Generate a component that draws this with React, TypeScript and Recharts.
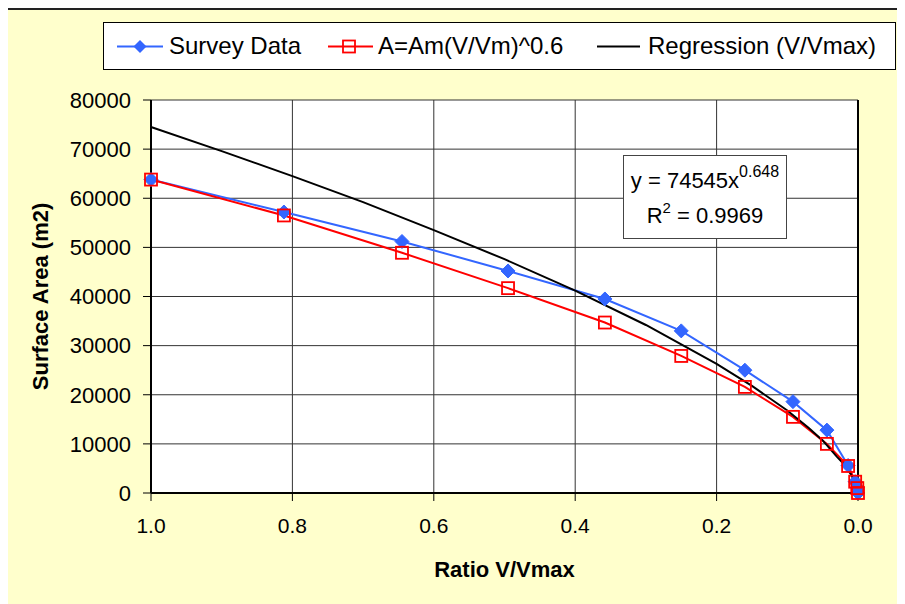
import { LineChart, Line, XAxis, YAxis, CartesianGrid, Legend, ReferenceLine } from 'recharts'

const FONT = '"Liberation Sans", Arial, sans-serif'

// survey points (ratio V/Vmax -> surface area m2)
const surveyRatio = [1.0, 0.812, 0.645, 0.495, 0.358, 0.25, 0.16, 0.092, 0.044, 0.014, 0.004, 0.001, 0]
const surveyArea = [63800, 57200, 51200, 45200, 39500, 33000, 25000, 18600, 12800, 5600, 2300, 1100, 0]
// A = Am (V/Vm)^0.6, same ratios
const modelArea = [63800, 56500, 48900, 41700, 34700, 27900, 21600, 15500, 10000, 5500, 2300, 1000, 0]
// regression trendline
const regRatio = [1, 0.9, 0.8, 0.7, 0.6, 0.5, 0.4, 0.3, 0.2, 0.15, 0.1, 0.07, 0.05, 0.03, 0.02, 0.01, 0.005, 0.002, 0]
const regArea = [74500, 69600, 64500, 59200, 53500, 47600, 41200, 34200, 26300, 21800, 16800, 13300, 10700, 7400, 5900, 3800, 2400, 1340, 0]

const xTicks = [0, 0.2, 0.4, 0.6, 0.8, 1.0]
const yTicks = [0, 10000, 20000, 30000, 40000, 50000, 60000, 70000, 80000]

const surveyData = surveyRatio.map((x, i) => ({ x, y: surveyArea[i] }))
const modelData = surveyRatio.map((x, i) => ({ x, y: modelArea[i] }))
const regData = regRatio.map((x, i) => ({ x, y: regArea[i] }))

const BLUE = '#3366FF'
const RED = '#FF0000'

const Diamond = (props: any) => {
  const { cx, cy, index } = props
  if (cx == null || cy == null) return <g key={index} />
  const r = 7
  return (
    <polygon
      key={index}
      points={`${cx},${cy - r} ${cx + r},${cy} ${cx},${cy + r} ${cx - r},${cy}`}
      fill={BLUE}
      stroke={BLUE}
    />
  )
}

const Square = (props: any) => {
  const { cx, cy, index } = props
  if (cx == null || cy == null) return <g key={index} />
  return <rect key={index} x={cx - 6} y={cy - 6} width={12} height={12} fill="none" stroke={RED} strokeWidth={1.8} />
}

function LegendBox() {
  return (
    <svg width={793} height={48} style={{ display: 'block' }}>
      <rect x={0.5} y={0.5} width={792} height={47} fill="#fff" stroke="#000" />
      <line x1={14} x2={60} y1={24.5} y2={24.5} stroke={BLUE} strokeWidth={2} />
      <polygon points="37,18 43.5,24.5 37,31 30.5,24.5" fill={BLUE} />
      <text x={66} y={32} fontSize={24} fontFamily={FONT} fill="#000">Survey Data</text>
      <line x1={225} x2={270} y1={24.5} y2={24.5} stroke={RED} strokeWidth={2} />
      <rect x={240} y={18.5} width={12} height={12} fill="none" stroke={RED} strokeWidth={1.8} />
      <text x={275} y={32} fontSize={24} fontFamily={FONT} fill="#000">A=Am(V/Vm)^0.6</text>
      <line x1={494} x2={537} y1={24.5} y2={24.5} stroke="#000" strokeWidth={2} />
      <text x={545} y={32} fontSize={24} fontFamily={FONT} fill="#000">Regression (V/Vmax)</text>
    </svg>
  )
}

export default function App() {
  return (
    <div style={{ position: 'relative', width: 895, height: 596, fontFamily: FONT }}>
      <div
        style={{
          position: 'absolute',
          left: -4,
          top: 0,
          width: 899,
          height: 600,
          boxSizing: 'border-box',
          border: '2px solid #222',
          background: '#FFFFCC',
        }}
      />
      <div style={{ position: 'absolute', left: 0, top: 0 }}>
        <LineChart width={895} height={596} margin={{ top: 92, right: 45, bottom: 27, left: 0 }}>
          <CartesianGrid stroke="#333" strokeWidth={1} fill="#fff" />
          <XAxis
            type="number"
            dataKey="x"
            domain={[0, 1]}
            reversed
            ticks={xTicks}
            tickFormatter={(v: number) => v.toFixed(1)}
            height={84}
            axisLine={{ stroke: '#000', strokeWidth: 2 }}
            tickLine={{ stroke: '#000' }}
            tickSize={8}
            tickMargin={17}
            tick={{ fill: '#000', fontSize: 21, fontFamily: FONT }}
            label={{
              value: 'Ratio V/Vmax',
              position: 'insideBottom',
              offset: 0,
              style: { fontSize: 22, fontWeight: 'bold', fill: '#000', fontFamily: FONT },
            }}
          />
          <YAxis
            type="number"
            domain={[0, 80000]}
            ticks={yTicks}
            width={143}
            axisLine={{ stroke: '#000', strokeWidth: 2 }}
            tickLine={{ stroke: '#000' }}
            tickSize={8}
            tickMargin={12}
            tick={{ fill: '#000', fontSize: 22, fontFamily: FONT }}
            label={{
              value: 'Surface Area (m2)',
              angle: -90,
              position: 'insideLeft',
              offset: 32,
              style: { textAnchor: 'middle', fontSize: 22, fontWeight: 'bold', fill: '#000', fontFamily: FONT },
            }}
          />
          <ReferenceLine x={0} stroke="#000" strokeWidth={2} />
          <Line
            data={surveyData}
            dataKey="y"
            stroke={BLUE}
            strokeWidth={2}
            dot={Diamond}
            isAnimationActive={false}
          />
          <Line
            data={modelData}
            dataKey="y"
            stroke={RED}
            strokeWidth={2}
            dot={Square}
            isAnimationActive={false}
          />
          <Line
            data={regData}
            dataKey="y"
            stroke="#000"
            strokeWidth={2}
            dot={false}
            isAnimationActive={false}
          />
          <Legend
            layout="horizontal"
            verticalAlign="middle"
            align="center"
            content={() => <LegendBox />}
            wrapperStyle={{ left: 95, top: 14, width: 793, height: 48 }}
          />
        </LineChart>
      </div>
      <div style={{ position: 'absolute', left: 615, top: 147 }}>
        <svg width={164} height={84} style={{ display: 'block' }}>
          <rect x={0.5} y={0.5} width={163} height={83} fill="#fff" stroke="#444" />
          <text x={82} y={33} textAnchor="middle" fontSize={22} fontFamily={FONT} fill="#000">
            y = 74545x<tspan dy={-11} fontSize={16}>0.648</tspan>
          </text>
          <text x={82} y={68} textAnchor="middle" fontSize={22} fontFamily={FONT} fill="#000">
            R<tspan dy={-10} fontSize={15}>2</tspan>
            <tspan dy={10} fontSize={22}> = 0.9969</tspan>
          </text>
        </svg>
      </div>
    </div>
  )
}
